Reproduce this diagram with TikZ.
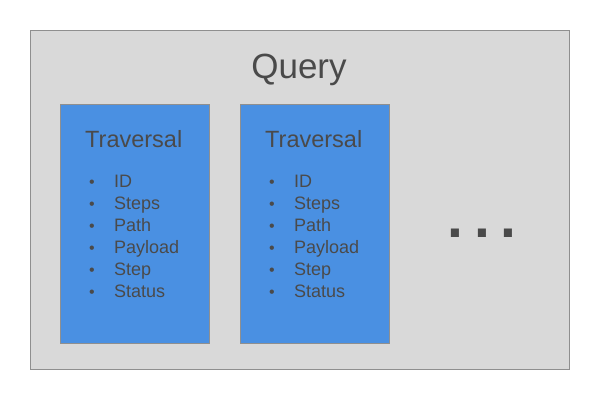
\documentclass[tikz,border=0pt]{standalone}
\usepackage{fontspec}
\setmainfont{Liberation Sans}
\definecolor{bggray}{HTML}{D9D9D9}
\definecolor{edgegray}{HTML}{8F8F8F}
\definecolor{boxblue}{HTML}{4A90E2}
\definecolor{txt}{HTML}{4A4A4A}
\begin{document}
\begin{tikzpicture}[x=1pt,y=-1pt,
  outerbox/.style={draw=edgegray,fill=bggray,line width=1pt},
  travbox/.style={draw=edgegray,fill=boxblue,line width=1pt},
  lbl/.style={inner sep=0pt,text=txt,anchor=base west},
  titlelbl/.style={inner sep=0pt,text=txt,anchor=base,font=\fontsize{35}{40}\selectfont},
  headlbl/.style={lbl,font=\fontsize{23.5}{28}\selectfont},
  itemlbl/.style={lbl,font=\fontsize{18}{22}\selectfont},
  bulletlbl/.style={inner sep=0pt,text=txt,anchor=base,font=\fontsize{16}{20}\selectfont}]
\useasboundingbox (0,0) rectangle (600,400);
\fill[white] (0,0) rectangle (600,400);
\draw[outerbox] (30.5,30.5) rectangle (569.5,369.5);
\node[titlelbl] (query) at (299,78) {Query};
\foreach \bx/\nm in {60/a,240/b}{
  \draw[travbox] (\bx+0.5,104.5) rectangle (\bx+149.5,343.5);
  \node[headlbl] (head\nm) at (\bx+25,147) {Traversal};
  \foreach \it [count=\i from 0] in {ID,Steps,Path,Payload,Step,Status}{
    \node[bulletlbl] (bul\nm\i) at (\bx+32,187+22*\i) {\textbullet};
    \node[itemlbl] (item\nm\i) at (\bx+54,187+22*\i) {\it};
  }
}
\node[inner sep=0pt,text=txt,anchor=base,font=\bfseries\fontsize{57}{60}\selectfont] (dots) at (482,237) {.\hspace{10.6pt}.\hspace{10.6pt}.};
\end{tikzpicture}
\end{document}
